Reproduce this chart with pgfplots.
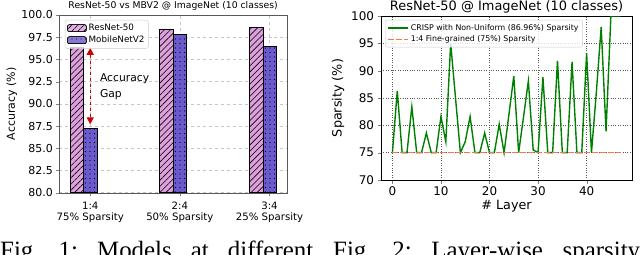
\documentclass[border=0pt]{standalone}
\usepackage{fontspec}
\setmainfont{Liberation Serif}
\newfontfamily\dejavu{DejaVu Sans}
\usepackage{pgfplots}
\pgfplotsset{compat=1.18}
\usetikzlibrary{patterns.meta, arrows.meta}

\definecolor{plumc}{RGB}{221,160,221}
\definecolor{slatec}{RGB}{106,90,205}
\definecolor{greenc}{RGB}{0,128,0}
\definecolor{coralc}{RGB}{255,115,75}
\definecolor{arrowred}{RGB}{204,0,0}

\pgfplotstableread{
x y
0 75
1 86.3
2 75
3 75
4 83.4
5 75
6 75
7 78.6
8 75
9 75
10 81.6
11 77
12 95
13 85
14 75
15 77
16 81.6
17 75
18 75
19 78.6
20 75
21 75
22 80.2
23 75
24 82
25 89
26 75
27 81.5
28 88.1
29 75.5
30 75
31 88.8
32 75
33 75
34 91.8
35 75
36 75
37 91.6
38 75
39 75
40 93.2
41 75
42 86
43 98
44 78.9
45 100
46 100
47 100
}\crisp

\pgfplotstableread{
x y
0 75
47 75
}\finegrained

\begin{document}
\begin{tikzpicture}
% ---------------- Left chart ----------------
\begin{axis}[
  at={(59.3bp,-192.7bp)}, anchor=south west,
  scale only axis, width=227.7bp, height=177.7bp,
  xmin=-0.345, xmax=2.195, ymin=80, ymax=100,
  xtick={0,1,2},
  xticklabels={{1:4\\75\% Sparsity},{2:4\\50\% Sparsity},{3:4\\25\% Sparsity}},
  xticklabel style={align=center, font=\dejavu\fontsize{10.2}{11.5}\selectfont, yshift=-2.5bp},
  ytick={80,82.5,85,87.5,90,92.5,95,97.5,100},
  yticklabel style={font=\dejavu\fontsize{11}{12}\selectfont,
    /pgf/number format/fixed, /pgf/number format/fixed zerofill,
    /pgf/number format/precision=1},
  /pgf/number format/assume math mode=true,
  tick align=outside, tick pos=left, major tick length=3bp,
  axis line style={gray!70!black},
  grid=major, grid style={dashed, gray!45, line width=0.5bp},
  ylabel={Accuracy (\%)},
  every axis y label/.style={at={(axis description cs:-0.208,0.5)}, rotate=90, anchor=center,
    font=\dejavu\fontsize{11}{12}\selectfont},
  title={ResNet-50 vs MBV2 @ ImageNet (10 classes)},
  title style={font=\dejavu\fontsize{9.3}{10}\selectfont, yshift=-4.5bp},
  legend cell align=left,
  legend style={at={(0.025,0.972)}, anchor=north west,
    font=\dejavu\fontsize{8.8}{10}\selectfont,
    draw=gray!40, rounded corners=2bp, fill=white, fill opacity=0.8, text opacity=1,
    row sep=0bp, inner sep=2bp},
  legend image code/.code={\draw[#1,bar shift=0pt] (0bp,-3.5bp) rectangle (19bp,3.5bp);},
]
\addplot[ybar, bar width=0.15, bar shift=0pt, draw=black, line width=0.5bp, fill=plumc,
  postaction={pattern={Lines[angle=45,distance=4.3bp,line width=0.6bp]}, pattern color=black}]
  coordinates {(-0.15,96.4) (0.85,98.4) (1.85,98.6)};
\addlegendentry{ResNet-50}
\addplot[ybar, bar width=0.15, bar shift=0pt, draw=black, line width=0.5bp, fill=slatec,
  postaction={pattern={Dots[distance=4.5bp,radius=0.55bp]}, pattern color=black}]
  coordinates {(0,87.2) (1,97.8) (2,96.5)};
\addlegendentry{MobileNetV2}
\draw[arrowred, dashed, line width=1.3bp,
  {Triangle[length=7bp,width=7bp]}-{Triangle[length=7bp,width=7bp]}]
  (axis cs:0,96.3) -- (axis cs:0,87.7);
\node[anchor=west, align=left, font=\dejavu\fontsize{10.8}{16}\selectfont]
  at (axis cs:0.07,91.9) {Accuracy\\Gap};
\end{axis}

% ---------------- Right chart ----------------
\begin{axis}[
  at={(381bp,-180bp)}, anchor=south west,
  scale only axis, width=251bp, height=164bp,
  xmin=-2.35, xmax=49.35, ymin=70, ymax=100,
  xtick={0,10,20,30,40}, ytick={70,75,80,85,90,95,100},
  ticklabel style={font=\dejavu\fontsize{12}{13}\selectfont},
  /pgf/number format/assume math mode=true,
  tick align=outside, tick pos=left, major tick length=3.5bp,
  axis line style={black, line width=0.8bp},
  grid=major, grid style={dotted, gray!70!black, line width=0.6bp},
  xlabel={\# Layer}, ylabel={Sparsity (\%)},
  label style={font=\dejavu\fontsize{12.8}{14}\selectfont},
  xlabel style={yshift=3bp},
  title={ResNet-50 @ ImageNet (10 classes)},
  title style={font=\dejavu\fontsize{13}{14}\selectfont, yshift=-6.3bp},
  legend cell align=left,
  legend style={at={(0.016,0.976)}, anchor=north west,
    font=\dejavu\fontsize{7.9}{9}\selectfont,
    draw=gray!40, rounded corners=2bp, fill=white, fill opacity=0.8, text opacity=1,
    row sep=0bp, inner sep=2bp},
  legend image code/.code={\draw[#1, line width=1.6bp] (0bp,0bp) -- (20bp,0bp);},
]
\addplot[greenc, line width=1.4bp, sharp plot] table[x=x,y=y]{\crisp};
\addlegendentry{CRISP with Non-Uniform (86.96\%) Sparsity}
\addplot[coralc, line width=1.4bp, dash pattern=on 5.5bp off 2.5bp] table[x=x,y=y]{\finegrained};
\addlegendentry{1:4 Fine-grained (75\%) Sparsity}
\end{axis}

% ---------------- Captions ----------------
\node[anchor=base west, inner sep=0pt, font=\fontsize{25}{28}\selectfont] at (0bp,-258bp)
  {\makebox[313bp][s]{Fig.\hfill 1:\hfill Models\hfill at\hfill different}};
\node[anchor=base west, inner sep=0pt, font=\fontsize{25}{28}\selectfont] at (333bp,-258bp)
  {\makebox[307bp][s]{Fig.\hfill 2:\hfill Layer-wise\hfill sparsity}};

\pgfresetboundingbox
\path[use as bounding box] (0bp,-255bp) rectangle (640bp,0bp);
\end{tikzpicture}
\end{document}
